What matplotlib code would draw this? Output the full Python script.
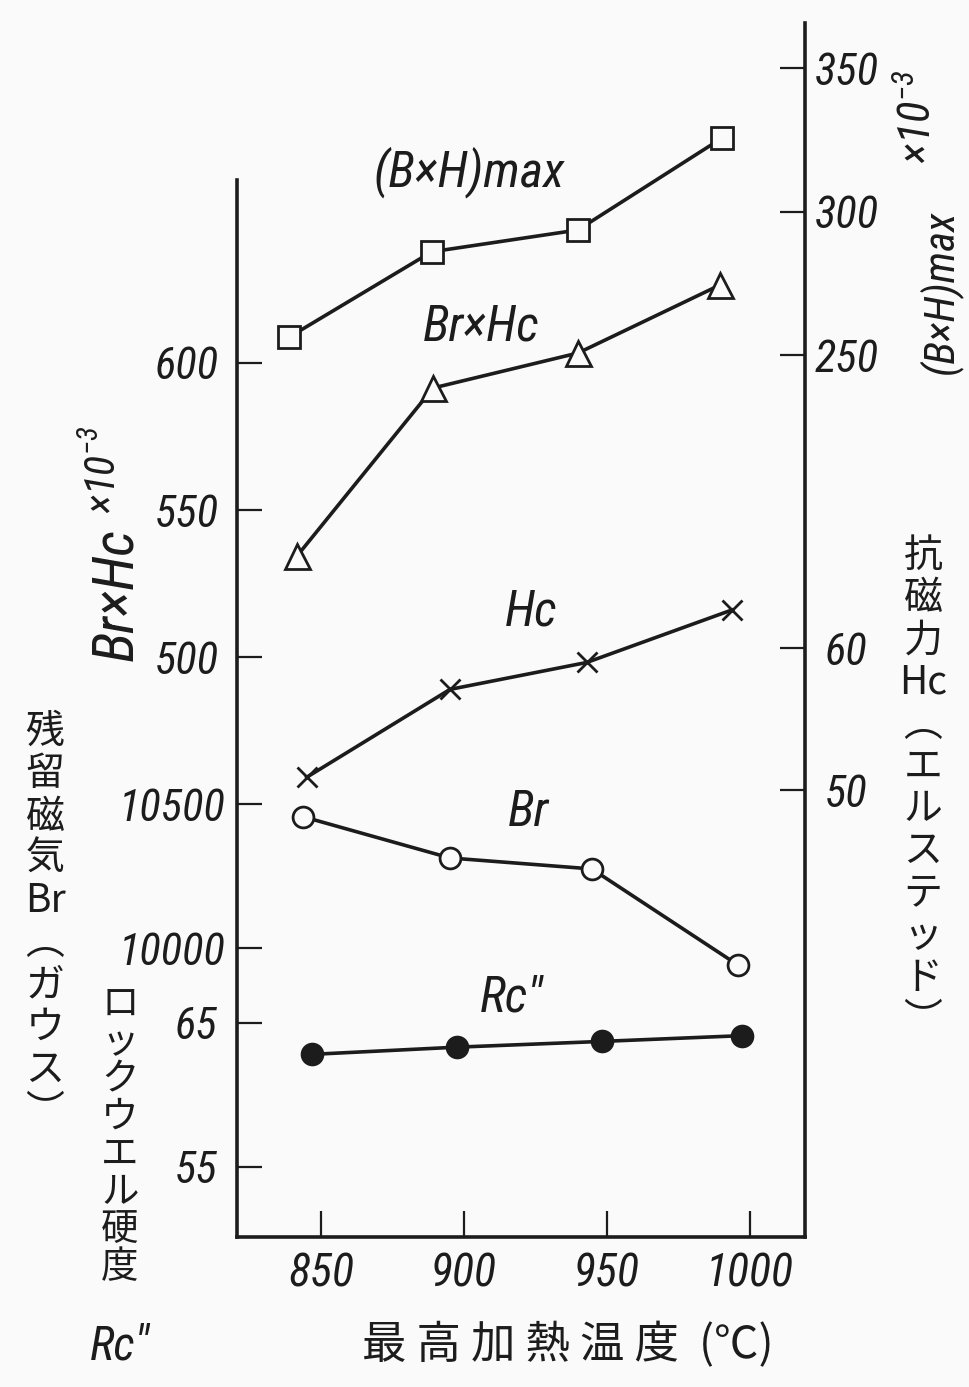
import matplotlib.pyplot as plt
from matplotlib import font_manager

W, H = 969, 1387
DPI = 100

# plot frame in pixels (x from the left edge, y from the top edge)
LEFT, RIGHT, TOP, BOTTOM = 237, 805, 23, 1237

installed = {f.name for f in font_manager.fontManager.ttflist}
narrow = [n for n in ["Liberation Sans Narrow", "Roboto Condensed", "Open Sans Condensed"]
          if n in installed]
LATIN = narrow[0] if narrow else ("Liberation Sans" if "Liberation Sans" in installed
                                  else "DejaVu Sans")
ROMAN = [LATIN, "DejaVu Sans"]
CJK = ["Noto Sans CJK JP", "DejaVu Sans"]
INK = "#1c1c1c"
PAPER = "#fafafa"
TICK_SIZE = 32 if narrow else 27
NAME_SIZE = 36 if narrow else 32

plt.rcParams["font.family"] = ROMAN
plt.rcParams["font.style"] = "italic"
plt.rcParams["text.color"] = INK

# maximum heating temperature of each measured point (°C)
temp_bhmax = [838.8, 888.7, 939.8, 990.1]
temp_brhc = [841.6, 889.2, 939.9, 989.5]
temp_hc = [845.0, 895.1, 942.9, 993.6]
temp_br = [843.7, 895.1, 944.7, 995.8]
temp_rc = [846.7, 897.4, 948.1, 997.1]

bhmax = [256.2, 286.0, 293.6, 325.6]    # (B×H)max ×10^-3
brhc = [534.3, 591.4, 603.3, 626.4]     # Br×Hc ×10^-3
hc = [50.9, 57.1, 59.0, 62.7]           # coercive force Hc, oersted
br = [10456, 10313, 10275, 9942]        # remanence Br, gauss
rc = [62.8, 63.3, 63.7, 64.1]           # Rockwell hardness Rc

x_ticks = [850, 900, 950, 1000]
brhc_ticks = [500, 550, 600]
br_ticks = [10000, 10500]
rc_ticks = [55, 65]
bhmax_ticks = [250, 300, 350]
hc_ticks = [50, 60]


def px(x, y):
    return x / W, 1 - y / H


def span(v1, p1, v2, p2, lo, hi):
    # data range between pixel rows/cols lo and hi, from two reference marks
    k = (v2 - v1) / (p2 - p1)
    return v1 + (lo - p1) * k, v1 + (hi - p1) * k


fig = plt.figure(figsize=(W / DPI, H / DPI), dpi=DPI, facecolor=PAPER)
rect = [LEFT / W, 1 - BOTTOM / H, (RIGHT - LEFT) / W, (BOTTOM - TOP) / H]

base = fig.add_axes(rect)
base.set_facecolor("none")
base.set_xlim(span(850, 321, 1000, 750, LEFT, RIGHT))
base.set_xticks(x_ticks)
base.tick_params(axis="x", direction="in", length=19, width=1.6, pad=11,
                 labelsize=TICK_SIZE + 1, colors=INK)
base.spines["top"].set_visible(False)
for side in ["left", "bottom", "right"]:
    base.spines[side].set_linewidth(2.6)
    base.spines[side].set_color(INK)
base.set_yticks([])


def overlay(side, ylim, ticks, pad):
    a = fig.add_axes(rect, sharex=base)
    a.patch.set_visible(False)
    for s in a.spines.values():
        s.set_visible(False)
    a.xaxis.set_visible(False)
    a.set_ylim(ylim)
    a.yaxis.set_ticks_position(side)
    a.set_yticks(ticks)
    a.tick_params(axis="y", direction="in", length=18, width=1.6, pad=pad,
                  labelsize=TICK_SIZE, colors=INK)
    return a


ax_brhc = overlay("left", span(600, 362.7, 500, 657, BOTTOM, TOP), brhc_ticks, 13)
ax_br = overlay("left", span(10500, 804, 10000, 948.3, BOTTOM, TOP), br_ticks, 8)
ax_rc = overlay("left", span(65, 1022.7, 55, 1166.7, BOTTOM, TOP), rc_ticks, 14)
ax_bh = overlay("right", span(350, 68.3, 250, 355, BOTTOM, TOP), bhmax_ticks, 7)
ax_hc = overlay("right", span(60, 648.3, 50, 790, BOTTOM, TOP), hc_ticks, 14)

# left frame line only runs from just above the 600 mark down
base.set_ylim(0, 1)
base.spines["left"].set_bounds(0, (BOTTOM - 180) / (BOTTOM - TOP))

line = dict(color=INK, lw=2.6, mec=INK, mew=2.0)
ax_bh.plot(temp_bhmax, bhmax, marker="s", ms=16, mfc=PAPER, **line)
ax_brhc.plot(temp_brhc, brhc, marker="^", ms=18, mfc=PAPER, **line)
ax_hc.plot(temp_hc, hc, marker="x", ms=14, **line)
ax_br.plot(temp_br, br, marker="o", ms=15, mfc=PAPER, **line)
ax_rc.plot(temp_rc, rc, marker="o", ms=15, mfc=INK, **line)

# curve names
fig.text(*px(469, 172), "(B×H)max", ha="center", va="center", fontsize=NAME_SIZE)
fig.text(*px(481, 327), "Br×Hc", ha="center", va="center", fontsize=NAME_SIZE)
fig.text(*px(531, 612), "Hc", ha="center", va="center", fontsize=NAME_SIZE)
fig.text(*px(528, 812), "Br", ha="center", va="center", fontsize=NAME_SIZE)
fig.text(*px(512, 998), "Rc″", ha="center", va="center", fontsize=NAME_SIZE)

# rotated scale names
fig.text(*px(117, 595), "Br×Hc", rotation=90, ha="center", va="center", fontsize=41)
fig.text(*px(104, 470), r"$\mathregular{\times10^{-3}}$", rotation=90,
         ha="center", va="center", fontsize=30)
fig.text(*px(940, 292), "(B×H)max", rotation=90, ha="center", va="center", fontsize=31)
fig.text(*px(918, 117), r"$\mathregular{\times10^{-3}}$", rotation=90,
         ha="center", va="center", fontsize=32)


def column(x, y, chars, size, spacing):
    # vertical Japanese writing, one glyph per line
    fig.text(*px(x, y), "\n".join(chars), ha="center", va="center",
             multialignment="center", fontsize=size, linespacing=spacing,
             family=CJK, style="normal")


column(45, 922, ["残", "留", "磁", "気", "Br", "︵", "ガ", "ウ", "ス", "︶"], 28, 1.07)
column(120, 1136, ["ロ", "ッ", "ク", "ウ", "エ", "ル", "硬", "度"], 27, 0.95)
fig.text(*px(120, 1347), "Rc″", ha="center", va="center", fontsize=34)
column(923, 788, ["抗", "磁", "力", "Hc", "︵", "エ", "ル", "ス", "テ", "ッ", "ド", "︶"],
       28, 1.07)

# horizontal axis title
fig.text(*px(568, 1345), "最 高 加 熱 温 度  (℃)", ha="center", va="center",
         fontsize=32, family=CJK, style="normal")

fig.savefig("out.png", dpi=DPI, facecolor=PAPER)
